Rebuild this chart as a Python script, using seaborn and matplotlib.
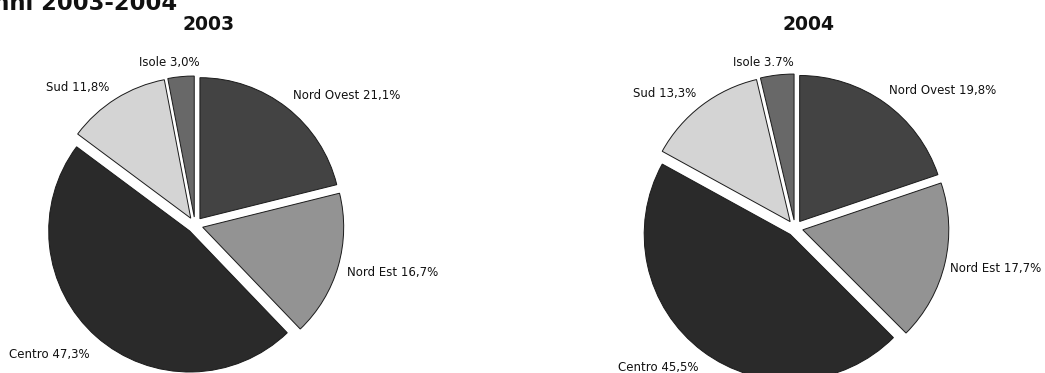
import matplotlib
matplotlib.use("Agg")
import matplotlib.pyplot as plt
import seaborn as sns

# Shares of the total by geographic area
regions = ["Nord Ovest", "Nord Est", "Centro", "Sud", "Isole"]
share_2003 = [21.1, 16.7, 47.3, 11.8, 3.0]
share_2004 = [19.8, 17.7, 45.5, 13.3, 3.7]
# decimal separator used in each printed label
sep_2003 = [",", ",", ",", ",", ","]
sep_2004 = [",", ",", ",", ",", "."]
years = ["2003", "2004"]
header = "anni 2003-2004"

# halftone-like greys for each area
greys = ["#434343", "#939393", "#2a2a2a", "#d4d4d4", "#686868"]

sns.set_theme(style="white")
plt.rcParams["font.family"] = ["DejaVu Sans"]

W, H = 1045, 373
fig = plt.figure(figsize=(W / 100, H / 100), dpi=100)
ax = fig.add_axes([0, 0, 1, 1])


def make_labels(values, seps):
    out = []
    for name, v, s in zip(regions, values, seps):
        out.append(f"{name} {v:.1f}%".replace(".", s))
    return out


def draw_pie(values, seps, cx, cy, r, title, nudges):
    _, texts = ax.pie(
        values,
        labels=make_labels(values, seps),
        colors=greys,
        startangle=90,
        counterclock=False,
        explode=[8] * len(values),
        center=(cx, H - cy),
        radius=r,
        labeldistance=1.1,
        wedgeprops=dict(edgecolor="#1a1a1a", linewidth=0.7),
        textprops=dict(fontsize=8.5, color="#111111"),
    )
    # align each label away from the pie centre, small label offsets in px
    for t, (dx, dy) in zip(texts, nudges):
        x, y = t.get_position()
        t.set_ha("left" if x >= cx else "right")
        t.set_position((x + dx, y - dy))
    # the small island slice keeps its label centred above it
    texts[-1].set_ha("center")
    ax.text(cx + 14, H - 25, title, ha="center", va="center",
            fontsize=13.5, fontweight="bold", color="#111111")


draw_pie(share_2003, sep_2003, 195, 225, 141, years[0],
         [(-2, -1), (-5, 2), (3, 7), (1, 1), (-10, 0)])
draw_pie(share_2004, sep_2004, 795, 228, 146, years[1],
         [(-4, 0), (-9, 2), (5, 5), (3, 0), (-12, 2)])

# page heading, partly cut by the top edge
ax.text(177, H - 10, header, ha="right", va="baseline",
        fontsize=16.3, fontweight="bold", color="#111111")

ax.set_xlim(0, W)
ax.set_ylim(0, H)
ax.set_aspect("equal")
ax.axis("off")

fig.savefig("out.png", dpi=100)
